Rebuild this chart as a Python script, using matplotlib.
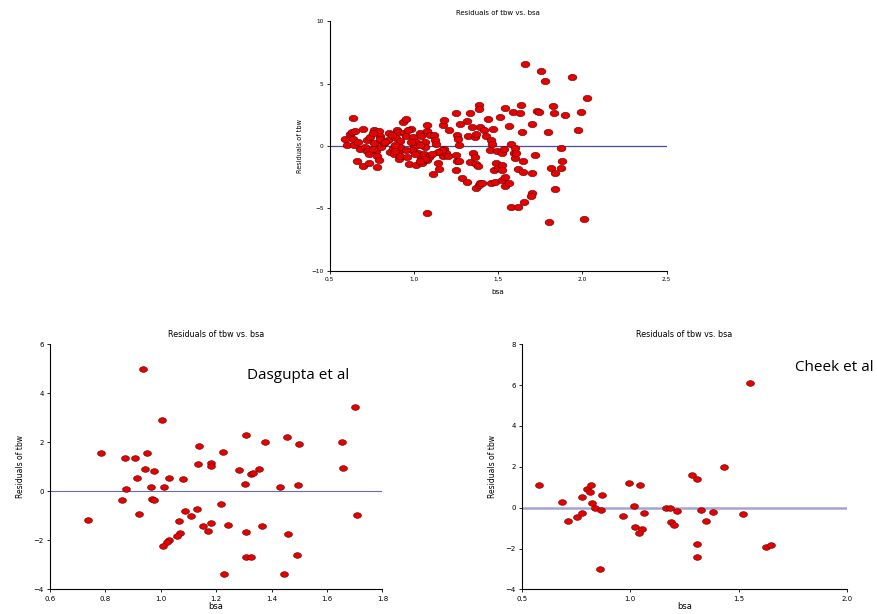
import matplotlib
matplotlib.use('Agg')
import matplotlib.pyplot as plt
import numpy as np
from matplotlib.path import Path

# Residuenplots tbw gegen bsa (oben: alle, unten: Dasgupta et al / Cheek et al)

top_bsa = [0.59, 0.60, 0.62, 0.635, 0.65, 0.64, 0.64, 0.645, 0.66, 0.695, 0.68, 0.695,
           0.71, 0.72, 0.72, 0.735, 0.735, 0.74, 0.76, 0.765, 0.775, 0.78, 0.79, 0.78, 0.79, 0.80,
           0.81, 0.805, 0.82, 0.85, 0.845, 0.86, 0.875, 0.88, 0.90, 0.895, 0.905, 0.90,
           0.91, 0.91, 0.92, 0.92, 0.935, 0.95, 0.94, 0.95, 0.96, 0.97, 0.98, 0.995,
           1.0, 1.01, 1.015, 1.025, 1.035, 1.04, 1.04, 1.05, 1.06, 1.065, 1.065, 1.075, 1.08,
           1.075, 1.09, 1.08, 1.09, 1.095,
           1.12, 1.115, 1.125, 1.13, 1.145, 1.15, 1.155, 1.17, 1.175, 1.18, 1.18, 1.19, 1.2,
           1.21, 1.25, 1.255, 1.26, 1.265, 1.25, 1.255, 1.25, 1.27, 1.275, 1.285,
           1.315, 1.32, 1.315, 1.33, 1.33, 1.345, 1.35, 1.36, 1.365, 1.37, 1.37, 1.37, 1.38,
           1.385, 1.385, 1.39, 1.385, 1.395,
           1.405, 1.415, 1.43, 1.44, 1.45, 1.455, 1.46, 1.465, 1.47, 1.475, 1.48, 1.485, 1.495, 1.5,
           1.51, 1.52, 1.525, 1.525, 1.525, 1.535, 1.54, 1.54, 1.54, 1.565, 1.565, 1.575, 1.575,
           1.59, 1.6, 1.595, 1.6,
           1.605, 1.62, 1.62, 1.63, 1.635, 1.64, 1.65, 1.65, 1.655, 1.66, 1.7, 1.7,
           1.7, 1.695, 1.72, 1.73, 1.745, 1.755, 1.78, 1.795, 1.8,
           1.815, 1.825, 1.83, 1.835, 1.835, 1.875, 1.875, 1.88, 1.9,
           1.94, 1.975, 1.995, 2.01, 2.03,
           0.985, 1.035, 0.99, 1.005, 1.065, 1.035, 1.165, 1.14, 0.757, 0.797, 0.915, 0.89,
           0.89, 0.955, 0.965, 0.83, 0.87, 0.67, 0.755, 1.11]
top_res = [0.56, 0.10, 1.0, 1.1, 1.18, 2.25, 0.6, 0.08, -1.2, 1.35, -0.27, -1.58,
           -0.03, 0.5, -0.42, -0.65, -1.37, 0.72, 1.3, 0.24, -0.43, -0.78, -1.15, -1.64, 1.18, 0.85,
           0.38, -0.08, 0.24, 1.05, 0.5, -0.5, -0.15, -0.62, 1.3, 0.65, 1.1, 0.03,
           -0.43, -1.05, -0.83, -0.03, 1.95, 2.17, 1.05, 0.78, -0.88, -1.47, 1.4, 0.7,
           -0.03, 0.3, -1.55, -0.56, 1.05, 0.78, -0.99, -1.37, -0.62, 0.3, -0.03, 1.69, 1.23,
           -1.1, -0.78, -5.33, -0.91, 0.91,
           0.86, -2.25, 0.5, 0.19, -1.37, -1.85, -0.48, 1.72, -0.83, 2.12, -0.24, -0.54, -0.83,
           1.31, 2.68, 0.91, 0.56, 0.08, -0.72, -1.23, -1.9, -1.23, 1.8, -2.52,
           1.98, 0.78, -2.9, 2.65, -1.29, 1.5, -0.59, -0.86, 0.7, 0.97, -1.42, -3.32, -1.58,
           3.32, 3.0, 1.53, -3.08, -2.98,
           -2.92, 1.26, 0.78, 2.14, -0.3, -2.98, 0.5, 0.16, 1.39, -1.9, -2.87, -1.37, -0.4, -1.77,
           2.3, -0.56, -1.55, -1.9, -2.7, -0.19, 3.06, -3.22, -2.47, 1.64, -2.95, 0.19, -4.85,
           2.73, -0.16, -0.56, -0.94,
           -0.56, -4.85, -1.85, 2.68, 3.32, 1.1, -1.18, -2.04, -4.48, 6.6, 1.77, -2.17,
           -3.73, -4.0, -0.72, 2.84, 2.73, 6.06, 5.23, 1.15, -6.06,
           -1.77, 3.19, 2.65, -2.12, -3.46, -1.74, -0.16, -1.21, 2.47,
           5.58, 1.26, 2.76, -5.82, 3.86,
           0.35, 0.1, -0.3, -0.62, -1.05, -1.23, -0.3, -0.45, 1.05, 0.56, 0.43, 0.08,
           -0.43, -0.3, 1.31, 0.3, 0.9, 0.3, -0.2, -0.6]

dasgupta_bsa = [0.937, 1.006, 0.783, 0.872, 0.908, 0.950, 0.944, 0.913, 0.976, 0.963, 0.873,
                0.860, 0.967, 0.975, 0.922, 0.739, 1.012, 1.028, 1.082, 1.088, 1.109, 1.129,
                1.067, 1.071, 1.059, 1.030, 1.023, 1.009, 1.139, 1.136, 1.181, 1.180, 1.223,
                1.153, 1.171, 1.180, 1.218, 1.242, 1.230, 1.307, 1.281, 1.305, 1.324, 1.333,
                1.354, 1.378, 1.364, 1.309, 1.306, 1.327, 1.456, 1.499, 1.430, 1.496, 1.459,
                1.491, 1.446, 1.654, 1.657, 1.700, 1.709]
dasgupta_res = [4.99, 2.89, 1.56, 1.37, 1.36, 1.58, 0.90, 0.56, 0.83, 0.19, 0.11,
                -0.37, -0.31, -0.34, -0.92, -1.15, 0.16, 0.56, 0.49, -0.79, -0.99, -0.71,
                -1.21, -1.70, -1.83, -1.98, -2.08, -2.24, 1.86, 1.10, 1.15, 1.03, 1.62,
                -1.41, -1.63, -1.30, -0.53, -1.36, -3.37, 2.30, 0.86, 0.29, 0.69, 0.73,
                0.91, 2.02, -1.43, -1.67, -2.66, -2.69, 2.23, 1.93, 0.19, 0.27, -1.74,
                -2.61, -3.38, 2.02, 0.95, 3.45, -0.98]

cheek_bsa = [0.581, 0.684, 0.712, 0.756, 0.776, 0.779, 0.801, 0.819, 0.816, 0.824, 0.836,
             0.864, 0.870, 0.859, 0.967, 0.996, 1.016, 1.045, 1.062, 1.024, 1.054, 1.039,
             1.166, 1.183, 1.215, 1.189, 1.202, 1.285, 1.309, 1.326, 1.381, 1.348, 1.309,
             1.309, 1.432, 1.521, 1.552, 1.625, 1.647]
cheek_res = [1.11, 0.28, -0.64, -0.46, 0.52, -0.28, 0.90, 1.13, 0.78, 0.21, -0.02,
             -0.11, 0.64, -3.02, -0.42, 1.21, 0.07, 1.11, -0.26, -0.95, -1.03, -1.26,
             -0.03, -0.03, -0.18, -0.72, -0.86, 1.61, 1.39, -0.10, -0.23, -0.64, -1.79,
             -2.41, 2.01, -0.29, 6.11, -1.94, -1.83]

# Ellipse als Marker (breiter als hoch)
t = np.linspace(0, 2 * np.pi, 60)
ellipse = Path(np.column_stack([np.cos(t), 0.72 * np.sin(t)]), closed=True)

fig = plt.figure(figsize=(8.77, 6.14), dpi=100)


def residual_plot(rect, x, y, xlim, ylim, xticks, yticks, line_color, line_width, size, tick_size,
                  xlabelpad=5):
    ax = fig.add_axes(rect)
    ax.axhline(0, color=line_color, lw=line_width, zorder=1)
    ax.scatter(x, y, s=size, marker=ellipse, facecolor='#e60000', edgecolor='#5a0000',
               linewidth=0.4, zorder=2, clip_on=False)
    ax.set_xlim(xlim)
    ax.set_ylim(ylim)
    ax.set_xticks(xticks)
    ax.set_yticks(yticks)
    ax.spines['top'].set_visible(False)
    ax.spines['right'].set_visible(False)
    ax.spines['left'].set_linewidth(0.8)
    ax.spines['bottom'].set_linewidth(0.8)
    ax.tick_params(direction='out', length=2.5, width=0.6, labelsize=tick_size, pad=2)
    ax.set_title('Residuals of tbw vs. bsa', fontsize=tick_size + 0.8, pad=5)
    ax.set_ylabel('Residuals of tbw', fontsize=tick_size + 0.5, labelpad=6)
    ax.set_xlabel('bsa', fontsize=tick_size + 1, labelpad=xlabelpad)
    return ax


residual_plot([0.376, 0.559, 0.384, 0.406], top_bsa, top_res, (0.5, 2.5), (-10, 10),
              [0.5, 1.0, 1.5, 2.0, 2.5], [-10, -5, 0, 5, 10], '#4a4a9c', 0.9, 40, 4.2)

ax2 = residual_plot([0.057, 0.040, 0.379, 0.3995], dasgupta_bsa, dasgupta_res, (0.6, 1.8), (-4, 6),
                    np.arange(0.6, 1.81, 0.2), np.arange(-4, 7, 2), '#6a6aae', 0.8, 32, 5,
                    xlabelpad=0.5)
ax2.text(1.496, 4.74, 'Dasgupta et al', fontsize=11, family='Open Sans', ha='center', va='center')

residual_plot([0.595, 0.040, 0.371, 0.3995], cheek_bsa, cheek_res, (0.5, 2.0), (-4, 8),
              [0.5, 1.0, 1.5, 2.0], np.arange(-4, 9, 2), '#a4a4d4', 1.8, 32, 5,
              xlabelpad=0.5)
fig.text(0.906, 0.402, 'Cheek et al', fontsize=11, family='Open Sans', ha='left', va='center')

fig.savefig('out.png', dpi=100)
